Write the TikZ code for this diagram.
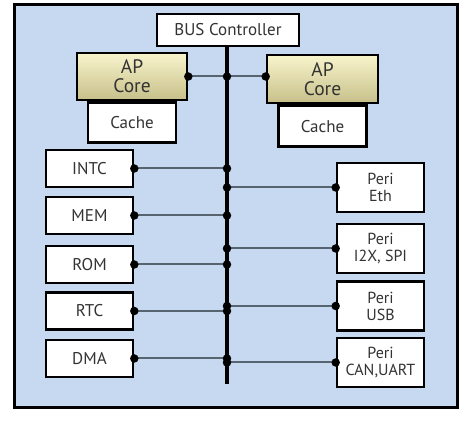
\documentclass[tikz,border=0pt]{standalone}
\usepackage{fontspec}
\setmainfont{PT Sans}
\definecolor{panel}{HTML}{C6D9F0}
\definecolor{coretop}{HTML}{F8F4CC}
\definecolor{corebot}{HTML}{C7C08A}
\definecolor{wire}{HTML}{56646F}
\tikzset{
  box/.style={draw, line width=2.6pt, fill=white, align=center, inner sep=0pt, font=\fontsize{17}{18}\selectfont, text=black!80},
  corebox/.style={box, top color=coretop, bottom color=corebot, font=\fontsize{19.5}{21}\selectfont},
  lbox/.style={box, minimum width=87, minimum height=37},
  rbox/.style={box, minimum width=87, minimum height=49, font=\fontsize{16}{17}\selectfont},
  wire/.style={draw=wire, line width=2pt},
  dot/.style={fill=black, circle, inner sep=0pt, minimum size=8.5pt}
}
\begin{document}
\begin{tikzpicture}[x=1pt, y=-1pt]
	\useasboundingbox (0,0) rectangle (467,427);
	\draw [line width=3pt, fill=panel] (14,5) rectangle (457,408);
	\node [box, minimum width=142, minimum height=32] (busc) at (228,30) {BUS Controller};
	\coordinate (busend) at (227,384);
	% cores
	\node [corebox, minimum width=110, minimum height=47] (lcore) at (132,76.5) {AP\\[-2pt]Core};
	\node [box, minimum width=88, minimum height=40, anchor=north] (lcache) at (lcore.south) {Cache};
	\node [corebox, minimum width=111, minimum height=48] (rcore) at (322.5,79) {AP\\[-2pt]Core};
	\node [box, minimum width=88, minimum height=41, anchor=north] (rcache) at (rcore.south) {Cache};
	% left side
	\node [lbox] (intc) at (89.5,168.5) {INTC};
	\node [lbox] (mem) at (89.5,215.5) {MEM};
	\node [lbox] (rom) at (89.5,264.5) {ROM};
	\node [lbox] (rtc) at (89.5,311) {RTC};
	\node [lbox] (dma) at (89.5,358.5) {DMA};
	% right side
	\node [rbox] (eth) at (380.5,187.5) {Peri\\Eth};
	\node [rbox] (i2x) at (380.5,248.5) {Peri\\I2X, SPI};
	\node [rbox] (usb) at (380.5,306) {Peri\\USB};
	\node [rbox] (can) at (380.5,362.5) {Peri\\CAN,UART};
	% bus
	\draw [line width=4pt] (busc.south -| busend) -- (busend);
	\draw [wire] (lcore.east) -- (lcore.east -| rcore.west);
	\node [dot] at (lcore.east) {};
	\node [dot] at (lcore.east -| busend) {};
	\node [dot] at (lcore.east -| rcore.west) {};
	\foreach \n in {intc,mem,rom,rtc,dma} {
		\draw [wire] (\n.east) -- (\n.east -| busend);
		\node [dot] at (\n.east) {};
		\node [dot] at (\n.east -| busend) {};
	}
	\foreach \n in {eth,i2x,usb,can} {
		\draw [wire] (\n.west) -- (\n.west -| busend);
		\node [dot] at (\n.west) {};
		\node [dot] at (\n.west -| busend) {};
	}
\end{tikzpicture}
\end{document}
